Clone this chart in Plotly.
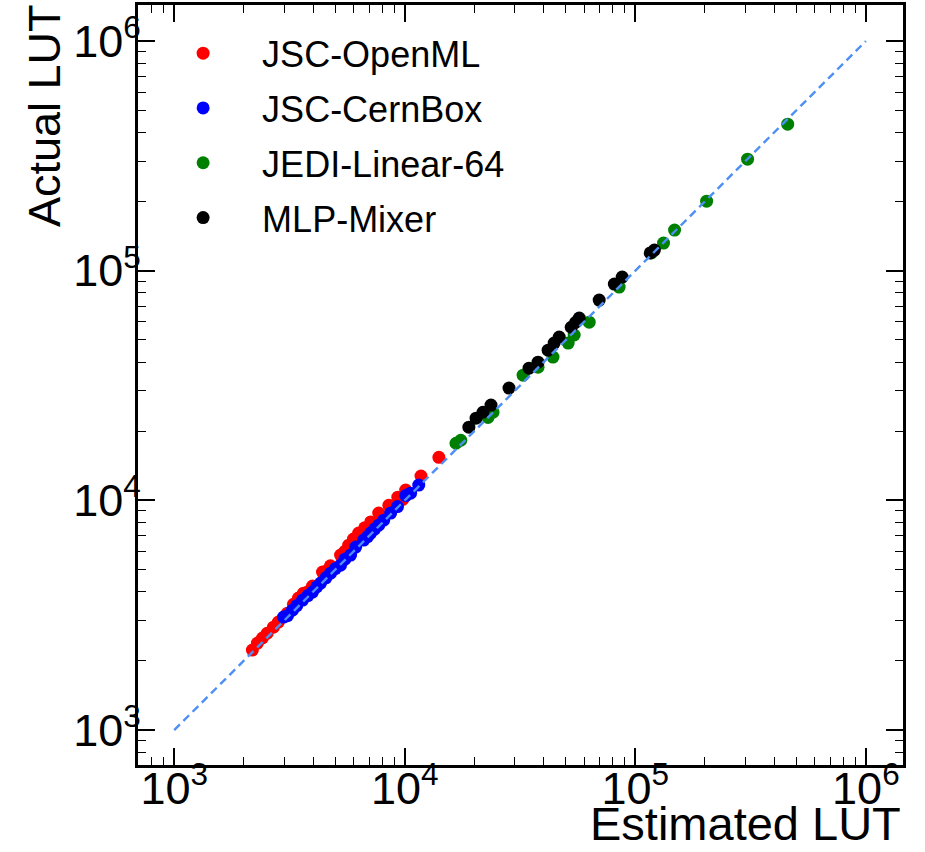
import plotly.graph_objects as go

# ---------------- data ----------------
openml_est = [2183, 2296, 2415, 2530, 2694, 2830, 3098, 3290, 3459, 3638, 3800, 3981,
              4397, 4600, 4760, 5266, 5500, 5711, 5990, 6310, 6700, 7116, 7709, 8530,
              9330, 9800, 10090, 11760, 14060]
openml_act = [2230, 2393, 2518, 2640, 2805, 2952, 3228, 3530, 3758, 3947, 4000, 4236,
              4874, 4950, 5190, 5781, 6000, 6385, 6790, 7208, 7600, 8056, 8810, 9520,
              10330, 10100, 11090, 12770, 15400]

cernbox_est = [2980, 3100, 3258, 3400, 3606, 3800, 3981, 4150, 4315, 4550, 4767, 5000,
               5266, 5500, 5821, 6124, 6637, 6900, 7116, 7400, 7709, 8100, 8690, 9300,
               10100, 10600, 11500]
cernbox_act = [3105, 3150, 3327, 3480, 3683, 3850, 3990, 4200, 4365, 4600, 4822, 5050,
               5226, 5550, 5781, 6266, 6720, 6950, 7208, 7500, 7804, 8200, 8810, 9400,
               10500, 10750, 11660]

jedi_est = [16680, 17500, 22960, 24150, 32600, 37850, 43950, 51150, 54300, 63100,
            85100, 117400, 132500, 148000, 203800, 306800, 458000]
jedi_act = [17740, 18280, 22960, 24200, 35100, 38000, 42100, 48400, 52500, 59700,
            84900, 119500, 131900, 150300, 200900, 306000, 434500]

mixer_est = [18970, 20380, 21830, 23660, 28320, 34590, 37850, 41860, 44460, 46760,
             52700, 55000, 57120, 69700, 81100, 87700, 116100, 121000]
mixer_act = [20840, 22800, 24200, 26020, 30830, 37650, 40000, 45100, 48400, 51400,
             56750, 59500, 62200, 74500, 87500, 93800, 119500, 123000]

diag = [1e3, 1e6]

series = [
    ("JSC-OpenML", openml_est, openml_act, "#ff0000"),
    ("JSC-CernBox", cernbox_est, cernbox_act, "#0000ff"),
    ("JEDI-Linear-64", jedi_est, jedi_act, "#008000"),
    ("MLP-Mixer", mixer_est, mixer_act, "#000000"),
]

FONT = "Liberation Sans, Arial, Helvetica, sans-serif"

fig = go.Figure()
for i, (name, xs, ys, col) in enumerate(series):
    fig.add_trace(go.Scatter(
        x=xs, y=ys, mode="markers", name=name, legendgroup=f"g{i}",
        marker=dict(color=col, size=13, line=dict(width=0)),
    ))

fig.add_trace(go.Scatter(
    x=diag, y=diag, mode="lines", showlegend=False,
    line=dict(color="#4d8ff5", width=2.4, dash="8px,5px"),
))

axis_common = dict(
    type="log",
    dtick=1,
    exponentformat="power",
    showgrid=False,
    zeroline=False,
    showline=True,
    linecolor="black",
    linewidth=3,
    mirror="allticks",
    ticks="inside",
    ticklen=17,
    tickwidth=1.5,
    tickcolor="black",
    tickfont=dict(family=FONT, size=36, color="black"),
    minor=dict(ticks="inside", ticklen=8, tickwidth=1.2, tickcolor="black",
               dtick="D1", showgrid=False),
)

fig.update_xaxes(range=[2.843, 6.161], ticklabelstandoff=-16, **axis_common)
fig.update_yaxes(range=[2.848, 6.157], ticklabelstandoff=-13, **axis_common)

fig.update_layout(
    width=925, height=852,
    margin=dict(l=138, r=22, t=5, b=87, autoexpand=False),
    plot_bgcolor="white",
    paper_bgcolor="white",
    font=dict(family=FONT, color="black"),
    legend=dict(
        x=0.008, y=0.976, xanchor="left", yanchor="top",
        font=dict(family=FONT, size=36, color="black"),
        bgcolor="rgba(0,0,0,0)",
        itemwidth=108,
        tracegroupgap=5,
        itemsizing="trace",
    ),
    annotations=[
        dict(text="Estimated LUT", xref="paper", yref="paper",
             x=1.0, y=-0.1145, xanchor="right", yanchor="bottom",
             showarrow=False, font=dict(family=FONT, size=47, color="black")),
        dict(text="Actual LUT", xref="paper", yref="paper",
             x=-0.123, y=0.855, xanchor="center", yanchor="middle",
             textangle=-90,
             showarrow=False, font=dict(family=FONT, size=45, color="black")),
    ],
)

fig.write_html("out.html", config={"displayModeBar": False},
               post_script="document.body.style.margin='0';")
